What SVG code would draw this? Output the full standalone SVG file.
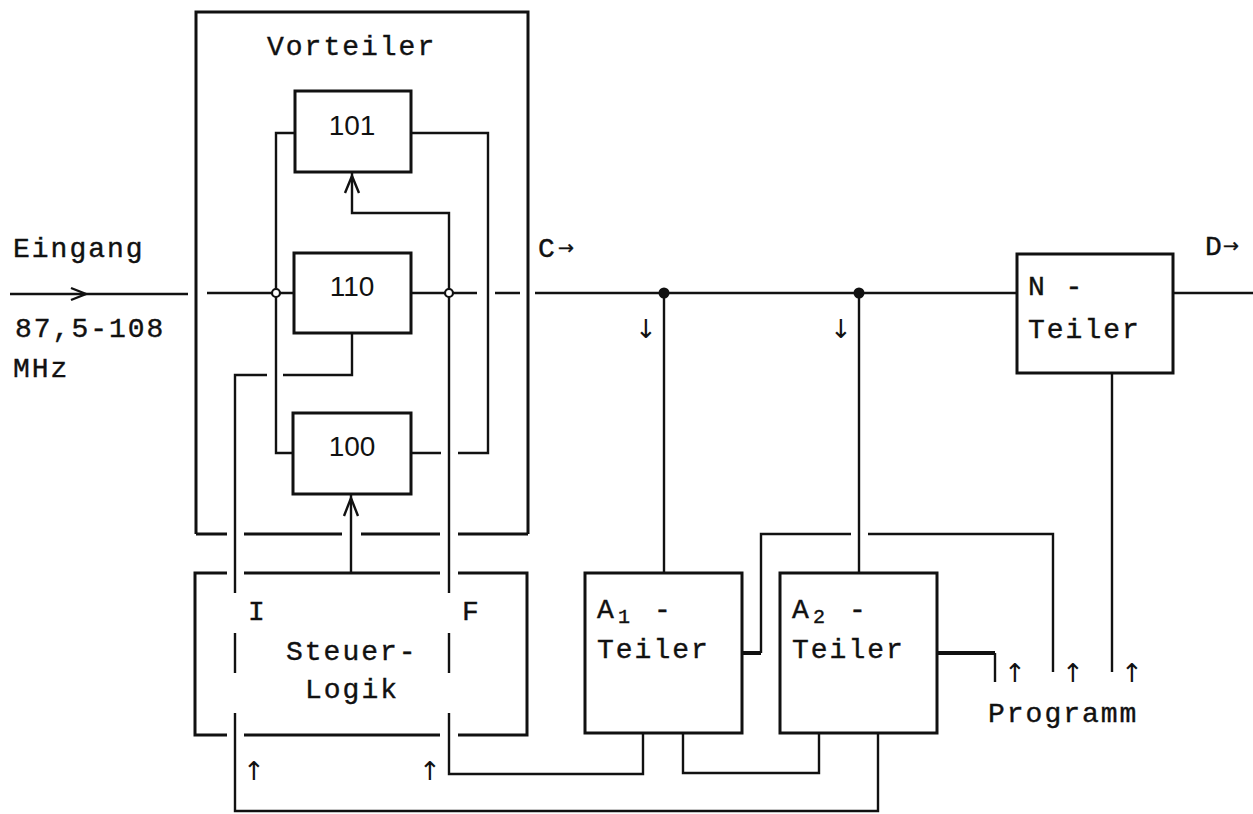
<svg xmlns="http://www.w3.org/2000/svg" width="1253" height="814" viewBox="0 0 1253 814">
<style>
.bx{fill:none;stroke:#111;stroke-width:3}
.ln{fill:none;stroke:#111;stroke-width:2.4}
.tk{fill:none;stroke:#111;stroke-width:4}
.t{font-family:"Liberation Mono","Courier New",monospace;font-size:28px;letter-spacing:2px;fill:#111;stroke:#111;stroke-width:0.4}
.d{font-family:"Liberation Sans",Arial,sans-serif;font-size:28px;fill:#111}
.sub{font-size:20px;letter-spacing:0}
.ar{font-family:"DejaVu Sans",sans-serif;font-size:26px;fill:#111}
.ars{font-family:"DejaVu Sans",sans-serif;font-size:19px;fill:#111;letter-spacing:0}
</style>
<rect width="1253" height="814" fill="#fff"/>

<g id="vorteiler">
  <path class="bx" d="M196,534 V12 H528 V534"/>
  <path class="bx" d="M196,534 H227 M244,534 H342 M361,534 H440 M458,534 H528"/>
  <text class="t" x="267" y="55">Vorteiler</text>
</g>

<g id="box101">
  <rect class="bx" x="295" y="91" width="116" height="81"/>
  <text class="d" x="352" y="135" text-anchor="middle">101</text>
</g>
<g id="box110">
  <rect class="bx" x="294" y="253" width="117" height="80"/>
  <text class="d" x="352" y="296" text-anchor="middle">110</text>
</g>
<g id="box100">
  <rect class="bx" x="293" y="413" width="118" height="81"/>
  <text class="d" x="352" y="456" text-anchor="middle">100</text>
</g>

<g id="steuerlogik">
  <path class="bx" d="M227,573 H195 V735 H227 M244,573 H440 M458,573 H527 V735 H458 M244,735 H440"/>
  <text class="t" x="248" y="620">I</text>
  <text class="t" x="462" y="620">F</text>
  <text class="t" x="286" y="660">Steuer-</text>
  <text class="t" x="305" y="698">Logik</text>
</g>

<g id="a1-teiler">
  <rect class="bx" x="585" y="573" width="157" height="160"/>
  <text class="t" x="597" y="618">A<tspan class="sub" x="618" dy="5">1</tspan><tspan x="654" dy="-5">-</tspan></text>
  <text class="t" x="597" y="658">Teiler</text>
</g>
<g id="a2-teiler">
  <rect class="bx" x="780" y="573" width="157" height="160"/>
  <text class="t" x="792" y="618">A<tspan class="sub" x="813" dy="5">2</tspan><tspan x="849" dy="-5">-</tspan></text>
  <text class="t" x="792" y="658">Teiler</text>
</g>
<g id="n-teiler">
  <rect class="bx" x="1017" y="254" width="156" height="119"/>
  <text class="t" x="1028" y="295">N -</text>
  <text class="t" x="1028" y="338">Teiler</text>
</g>

<g id="labels">
  <text class="t" x="13" y="257">Eingang</text>
  <text class="t" x="15" y="337">87,5-108</text>
  <text class="t" x="13" y="377">MHz</text>
  <text class="t" x="538" y="257">C<tspan class="ars" x="558" dy="-3">→</tspan></text>
  <text class="t" x="1205" y="255">D<tspan class="ars" x="1223" dy="-3">→</tspan></text>
  <text class="t" x="988" y="722">Programm</text>
  <text class="ar" x="646" y="338" text-anchor="middle">↓</text>
  <text class="ar" x="841" y="338" text-anchor="middle">↓</text>
  <text class="ar" x="254" y="780" text-anchor="middle">↑</text>
  <text class="ar" x="430" y="780" text-anchor="middle">↑</text>
  <text class="ar" x="1015" y="682" text-anchor="middle">↑</text>
  <text class="ar" x="1073" y="682" text-anchor="middle">↑</text>
  <text class="ar" x="1132" y="682" text-anchor="middle">↑</text>
</g>

<g id="connectors">
  <path class="ln" d="M10,294 H188"/>
  <path class="ln" d="M71,288 L86,294 L71,300"/>
  <path class="ln" d="M207,293 H294"/>
  <path class="ln" d="M411,293 H477 M495,293 H520 M535,293 H1017"/>
  <path class="ln" d="M1173,293 H1253"/>
  <path class="ln" d="M295,133 H276 V453 H293"/>
  <path class="ln" d="M411,133 H488 V453 H458 M441,453 H411"/>
  <path class="ln" d="M352,173 V213 H449 V593 M449,633 V673 M449,713 V774 H643 V733"/>
  <path class="ln" d="M345,193 L352,176 L359,193"/>
  <path class="ln" d="M352,333 V375 H283 M267,375 H235 V593 M235,633 V673 M235,713 V811 H878 V733"/>
  <path class="ln" d="M351,573 V495"/>
  <path class="ln" d="M344,516 L351,498 L358,516"/>
  <path class="ln" d="M664,293 V573 M859,293 V573"/>
  <path class="ln" d="M683,733 V773 H819 V733"/>
  <path class="tk" d="M742,653 H761"/>
  <path class="ln" d="M761,653 V534 H851 M868,534 H1053 V672"/>
  <path class="tk" d="M937,653 H995"/>
  <path class="ln" d="M995,653 V682"/>
  <path class="ln" d="M1112,373 V672"/>
  <circle cx="276" cy="293" r="4" fill="#fff" stroke="#111" stroke-width="2.2"/>
  <circle cx="449" cy="293" r="4" fill="#fff" stroke="#111" stroke-width="2.2"/>
  <circle cx="664" cy="293" r="5.5" fill="#111"/>
  <circle cx="859" cy="293" r="5.5" fill="#111"/>
</g>
</svg>
